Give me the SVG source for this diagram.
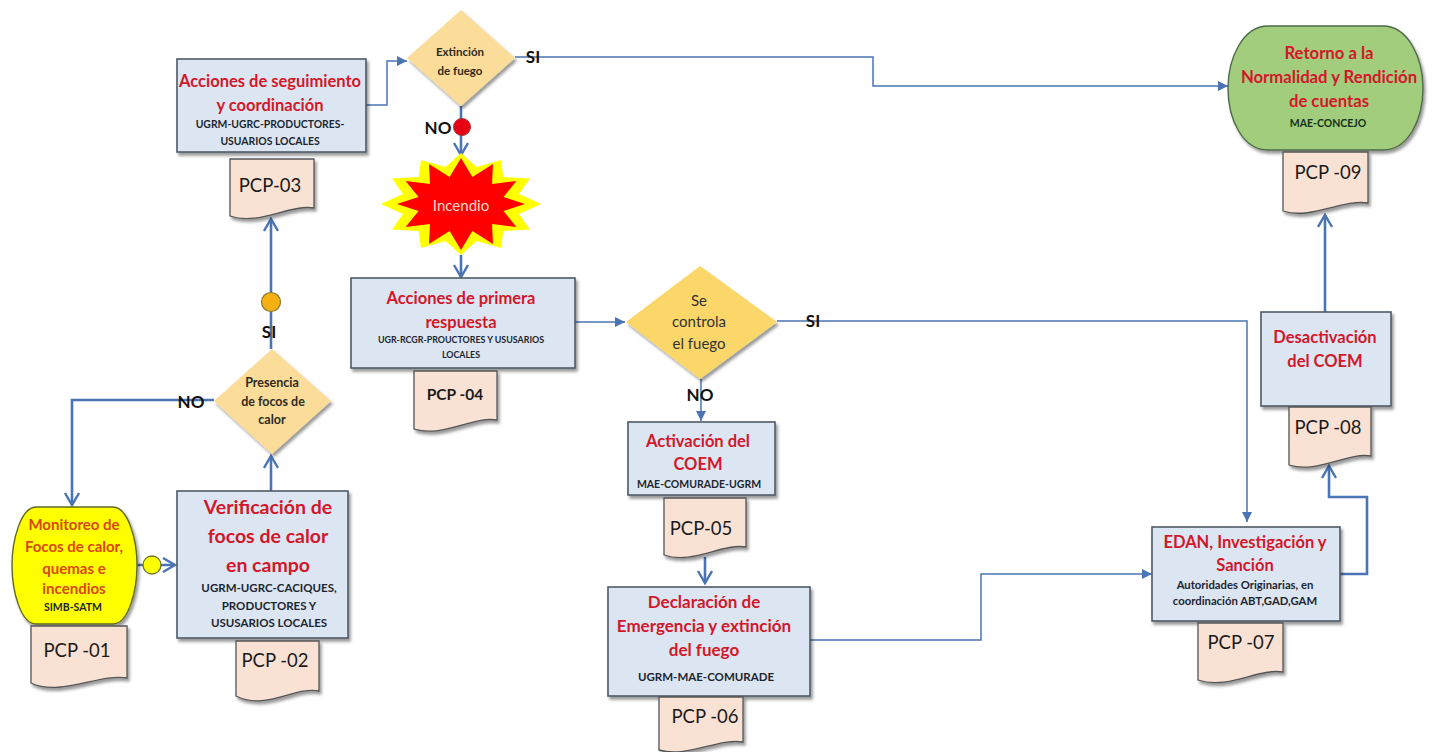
<svg xmlns="http://www.w3.org/2000/svg" width="1438" height="752" viewBox="0 0 1438 752">
<style>
text{font-family:"Lato","Open Sans","Liberation Sans",sans-serif;text-anchor:middle}
.box{fill:#dce6f2;stroke:#4f5b66;stroke-width:1.6;filter:url(#sh)}
.doc{fill:#f9e2d3;stroke:#555;stroke-width:1.3;filter:url(#sh)}
.dia{fill:#fbdc98;filter:url(#sh)}
.t{fill:#d3172a;font-weight:700}
.s{fill:#1d2530;font-weight:700}
.p{fill:#1a1a1a;font-size:18.5px}
.d{fill:#2d2a22;font-weight:700;font-size:11.5px}
.lab{fill:#111;font-weight:700;font-size:17px}
.c{fill:none;stroke:#4a74b4;stroke-width:1.5}
.c2{fill:none;stroke:#4a74b4;stroke-width:2.6}
.af{marker-end:url(#tri)}
.ao{marker-end:url(#open)}
</style>
<defs>
<filter id="sh" x="-10%" y="-10%" width="125%" height="125%"><feDropShadow dx="2" dy="3" stdDeviation="1.8" flood-color="#000" flood-opacity=".4"/></filter>
<marker id="tri" markerUnits="userSpaceOnUse" markerWidth="12" markerHeight="12" refX="10" refY="5" orient="auto"><path d="M0 0L10 5L0 10z" fill="#4a74b4"/></marker>
<marker id="open" markerUnits="userSpaceOnUse" markerWidth="16" markerHeight="20" refX="13" refY="8" orient="auto"><path d="M1 1L13 8L1 15" fill="none" stroke="#4a74b4" stroke-width="2.4"/></marker>
</defs>
<g id="connectors">
<path class="c2 ao" d="M214 400H72V505"/>
<path class="c2 ao" d="M137 565H175"/>
<path class="c2 ao" d="M271 491V456"/>
<path class="c2 ao" d="M271 349V219"/>
<path class="c af" d="M366 105H387V61H407"/>
<path class="c af" d="M515 57H873V86H1228"/>
<path class="c2 ao" d="M461 106V155"/>
<path class="c2 ao" d="M461 255V277"/>
<path class="c af" d="M571 322H625"/>
<path class="c af" d="M777 321H1247V522"/>
<path class="c af" d="M701 379V421"/>
<path class="c2 ao" d="M705 557V583"/>
<path class="c af" d="M810 640H981V574H1152"/>
<path class="c2 ao" d="M1340 574H1367V497H1329V466"/>
<path class="c2 ao" d="M1325 312V215"/>
</g>
<g id="n01"><path d="M36 507H113C128 507 137 540 137 565C137 592 128 624 113 624H36C21 624 12 592 12 565C12 540 21 507 36 507Z" fill="#ffff00" stroke="#5f6b1e" stroke-width="1.4" style="filter:url(#sh)"/>
<text class="t" font-size="15" style="fill:#d9480f"><tspan x="74" y="530">Monitoreo de</tspan><tspan x="74" y="552">Focos de calor,</tspan><tspan x="74" y="574">quemas e</tspan><tspan x="74" y="594">incendios</tspan></text>
<text class="s" font-size="10.5" x="73" y="611">SIMB-SATM</text></g>
<g id="d01"><path class="doc" d="M31 626H127V678C100 673 60 697 31 683Z"/><text class="p" x="77" y="657">PCP -01</text></g>
<g id="c-yellow"><circle cx="152" cy="565" r="9" fill="#ffff00" stroke="#6b7a2a" stroke-width="1.3"/></g>
<g id="n02"><rect class="box" x="177" y="491" width="171" height="147"/>
<text class="t" font-size="19.5"><tspan x="268" y="514">Verificación de</tspan><tspan x="268" y="543">focos de calor</tspan><tspan x="268" y="572">en campo</tspan></text>
<text class="s" font-size="11.5"><tspan x="269" y="592">UGRM-UGRC-CACIQUES,</tspan><tspan x="269" y="610">PRODUCTORES Y</tspan><tspan x="269" y="627">USUSARIOS LOCALES</tspan></text></g>
<g id="d02"><path class="doc" d="M236 641H319V691C295 686 265 711 236 696Z"/><text class="p" x="275" y="667">PCP -02</text></g>
<g id="q01"><path class="dia" d="M272 349L331 401L272 454L214 401Z"/><text class="d" style="font-size:12.5px"><tspan x="272" y="387">Presencia</tspan><tspan x="273" y="406">de focos de</tspan><tspan x="272" y="424">calor</tspan></text></g>
<g id="c-orange"><circle cx="271" cy="302" r="9.5" fill="#f5b014" stroke="#8a7a30" stroke-width="1.2"/></g>
<g id="n03"><rect class="box" x="177" y="59" width="189" height="93"/>
<text class="t" font-size="16.5"><tspan x="270" y="87">Acciones de seguimiento</tspan><tspan x="270" y="111">y coordinación</tspan></text>
<text class="s" font-size="10.4"><tspan x="270" y="128">UGRM-UGRC-PRODUCTORES-</tspan><tspan x="270" y="145">USUARIOS LOCALES</tspan></text></g>
<g id="d03"><path class="doc" d="M230 159H314V208C290 204 258 226 230 216Z"/><text class="p" x="270" y="192">PCP-03</text></g>
<g id="q02"><path class="dia" d="M461 10L515 58L461 106L407 58Z"/><text class="d"><tspan x="460" y="56">Extinción</tspan><tspan x="460" y="75">de fuego</tspan></text></g>
<g id="c-red"><circle cx="462" cy="127" r="8.5" fill="#e60012" stroke="#a33" stroke-width="1"/></g>
<g id="n-incendio"><path fill="#ffff00" d="M461 153L476.5 167L501 160L503.4 177L530 178.5L519 194L541 204L519 214L530 229.5L503.4 231L501 248L476.5 241L461 255L445.5 241L421 248L418.6 231L392 229.5L403 214L381 204L403 194L392 178.5L418.6 177L421 160L445.5 167Z"/>
<path fill="#ff0000" d="M461 158L472.4 177L493 164L492 184L516.4 181L503.5 197L525 204L503.5 211L516.4 227L492 224L493 244L472.4 231L461 250L449.6 231L429 244L430 224L405.6 227L418.5 211L397 204L418.5 197L405.6 181L430 184L429 164L449.6 177Z"/>
<text x="461" y="211" font-size="15" fill="#f7d9d0">Incendio</text></g>
<g id="n04"><rect class="box" x="351" y="278" width="224" height="90"/>
<text class="t" font-size="16.5"><tspan x="461" y="304">Acciones de primera</tspan><tspan x="461" y="328">respuesta</tspan></text>
<text class="s" font-size="8.9"><tspan x="461" y="343">UGR-RCGR-PROUCTORES  Y USUSARIOS</tspan><tspan x="461" y="358">LOCALES</tspan></text></g>
<g id="d04"><path class="doc" d="M414 371H497V420C472 416 443 438 414 429Z"/><text class="p" style="font-weight:700;font-size:15.5px" x="455" y="400">PCP -04</text></g>
<g id="q03"><path class="dia" style="fill:#fbd76a" d="M700 266L777 322L700 379L626 322Z"/><text fill="#333" font-size="15"><tspan x="699" y="306">Se</tspan><tspan x="699" y="327">controla</tspan><tspan x="699" y="349">el fuego</tspan></text></g>
<g id="n05"><rect class="box" x="628" y="422" width="147" height="73"/>
<text class="t" font-size="16.5"><tspan x="698" y="447">Activación del</tspan><tspan x="698" y="470">COEM</tspan></text>
<text class="s" font-size="10.5" x="699" y="488">MAE-COMURADE-UGRM</text></g>
<g id="d05"><path class="doc" d="M664 498H746V547C722 543 692 565 664 555Z"/><text class="p" x="701" y="535">PCP-05</text></g>
<g id="n06"><rect class="box" x="608" y="587" width="202" height="109"/>
<text class="t" font-size="17"><tspan x="704" y="608">Declaración de</tspan><tspan x="704" y="632">Emergencia y extinción</tspan><tspan x="704" y="656">del fuego</tspan></text>
<text class="s" font-size="11.5" x="706" y="681">UGRM-MAE-COMURADE</text></g>
<g id="d06"><path class="doc" d="M659 697H743V742C718 738 688 758 659 750Z"/><text class="p" x="705" y="723">PCP -06</text></g>
<g id="n07"><rect class="box" x="1152" y="527" width="188" height="94"/>
<text class="t" font-size="16.5"><tspan x="1245" y="548">EDAN, Investigación y</tspan><tspan x="1245" y="571">Sanción</tspan></text>
<text class="s" font-size="11.3"><tspan x="1245" y="589">Autoridades Originarias, en</tspan><tspan x="1245" y="605">coordinación ABT,GAD,GAM</tspan></text></g>
<g id="d07"><path class="doc" d="M1198 623H1283V672C1258 668 1228 690 1198 680Z"/><text class="p" x="1241" y="649">PCP -07</text></g>
<g id="n08"><rect class="box" x="1261" y="312" width="130" height="94"/>
<text class="t" font-size="16.5"><tspan x="1325" y="343">Desactivación</tspan><tspan x="1325" y="367">del COEM</tspan></text></g>
<g id="d08"><path class="doc" d="M1289 407H1371V456C1347 452 1317 474 1289 465Z"/><text class="p" x="1328" y="434">PCP -08</text></g>
<g id="n09"><path d="M1268 26H1383C1408 26 1423 58 1423 88C1423 120 1408 150 1383 150H1268C1243 150 1228 120 1228 88C1228 58 1243 26 1268 26Z" fill="#a2cd7c" stroke="#4d6b48" stroke-width="1.4" style="filter:url(#sh)"/>
<text class="t" font-size="16.7"><tspan x="1329" y="59">Retorno a la</tspan><tspan x="1329" y="83">Normalidad y Rendición</tspan><tspan x="1329" y="107">de cuentas</tspan></text>
<text class="s" font-size="10.5" x="1328" y="127" style="fill:#12301a">MAE-CONCEJO</text></g>
<g id="d09"><path class="doc" d="M1283 152H1368V203C1342 199 1312 220 1283 211Z"/><text class="p" x="1328" y="179">PCP -09</text></g>
<g id="labels">
<text class="lab" x="191" y="408">NO</text>
<text class="lab" x="269" y="338">SI</text>
<text class="lab" x="533" y="63">SI</text>
<text class="lab" x="438" y="134">NO</text>
<text class="lab" x="813" y="327">SI</text>
<text class="lab" x="700" y="401">NO</text>
</g>
</svg>
